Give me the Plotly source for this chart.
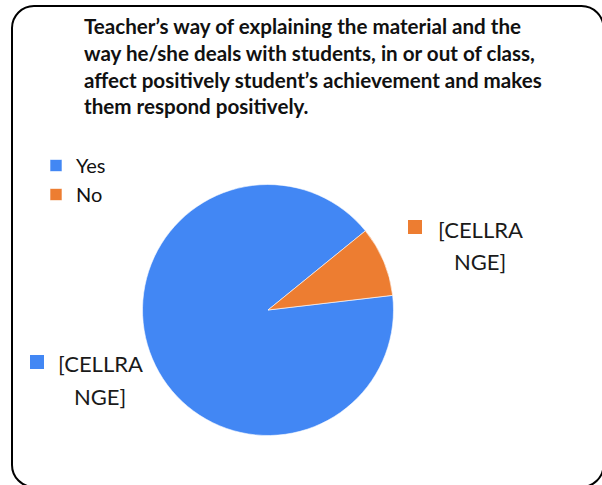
import plotly.graph_objects as go

# ---- data ----
categories = ["Yes", "No"]
values = [91, 9]
colors = ["#4287F4", "#ED7D31"]
data_label_text = ["[CELLRANGE]", "[CELLRANGE]"]
title_lines = [
    "Teacher’s way of explaining the material and the",
    "way he/she deals with students, in or out of class,",
    "affect positively student’s achievement and makes",
    "them respond positively.",
]

W, H = 602, 485

def px_x(x):
    return x / W

def px_y(y):
    return 1 - y / H

# pie geometry (pixels)
cx, cy, r = 268, 310, 125.5

fig = go.Figure()
fig.add_trace(go.Pie(
    labels=categories,
    values=values,
    marker=dict(colors=colors, line=dict(color="white", width=0.6)),
    sort=False,
    direction="clockwise",
    rotation=83.3,
    textinfo="none",
    hoverinfo="label+value",
    domain=dict(x=[px_x(cx - r), px_x(cx + r)], y=[px_y(cy + r), px_y(cy - r)]),
    showlegend=True,
))

# rounded chart border (pixel coordinates on hidden axes)
L, T, R, B, rad = 12, 6, 603.5, 487, 22
k = 0.5523 * rad
path = (
    f"M {L+rad},{T} L {R-rad},{T} "
    f"C {R-rad+k},{T} {R},{T+rad-k} {R},{T+rad} "
    f"L {R},{B-rad} "
    f"C {R},{B-rad+k} {R-rad+k},{B} {R-rad},{B} "
    f"L {L+rad},{B} "
    f"C {L+rad-k},{B} {L},{B-rad+k} {L},{B-rad} "
    f"L {L},{T+rad} "
    f"C {L},{T+rad-k} {L+rad-k},{T} {L+rad},{T} Z"
)
shapes = [dict(type="path", path=path, xref="x", yref="y",
               line=dict(color="black", width=2), fillcolor="rgba(0,0,0,0)")]

# data-label key squares
label_pos = [  # (square center x, y, text center x, first line y, second line y)
    (37, 362, 100, 363, 396),   # Yes
    (415, 227, 480, 229, 261),  # No
]
annotations = []
for i, (sx, sy, tx, y1, y2) in enumerate(label_pos):
    s = 7
    shapes.append(dict(type="rect", xref="x", yref="y",
                       x0=sx - s, x1=sx + s, y0=sy - s, y1=sy + s,
                       line=dict(width=0), fillcolor=colors[i]))
    txt = data_label_text[i]
    for part, yy in ((txt[:7], y1), (txt[7:], y2)):
        annotations.append(dict(x=tx, y=yy, xref="x", yref="y", text=part,
                                showarrow=False, xanchor="center", yanchor="middle",
                                font=dict(family="Lato", size=22, color="#1a1a1a")))

# title
annotations.append(dict(
    x=82, y=12, xref="x", yref="y", xanchor="left", yanchor="top", align="left",
    text="<b>" + "<br>".join(title_lines) + "</b>", showarrow=False,
    font=dict(family="Lato", size=20.6, color="#111111"),
))

fig.update_layout(
    width=W, height=H,
    margin=dict(l=0, r=0, t=0, b=0),
    paper_bgcolor="white", plot_bgcolor="white",
    xaxis=dict(range=[0, W], visible=False, fixedrange=True),
    yaxis=dict(range=[H, 0], visible=False, fixedrange=True),
    shapes=shapes,
    annotations=annotations,
    showlegend=True,
    legend=dict(x=px_x(36), y=px_y(146), xanchor="left", yanchor="top",
                font=dict(family="Lato", size=20, color="#111111"),
                bgcolor="rgba(0,0,0,0)", borderwidth=0),
)

fig.write_html(
    "out.html",
    config={"displayModeBar": False},
    post_script="document.body.style.margin='0px';document.body.style.overflow='hidden';",
)
